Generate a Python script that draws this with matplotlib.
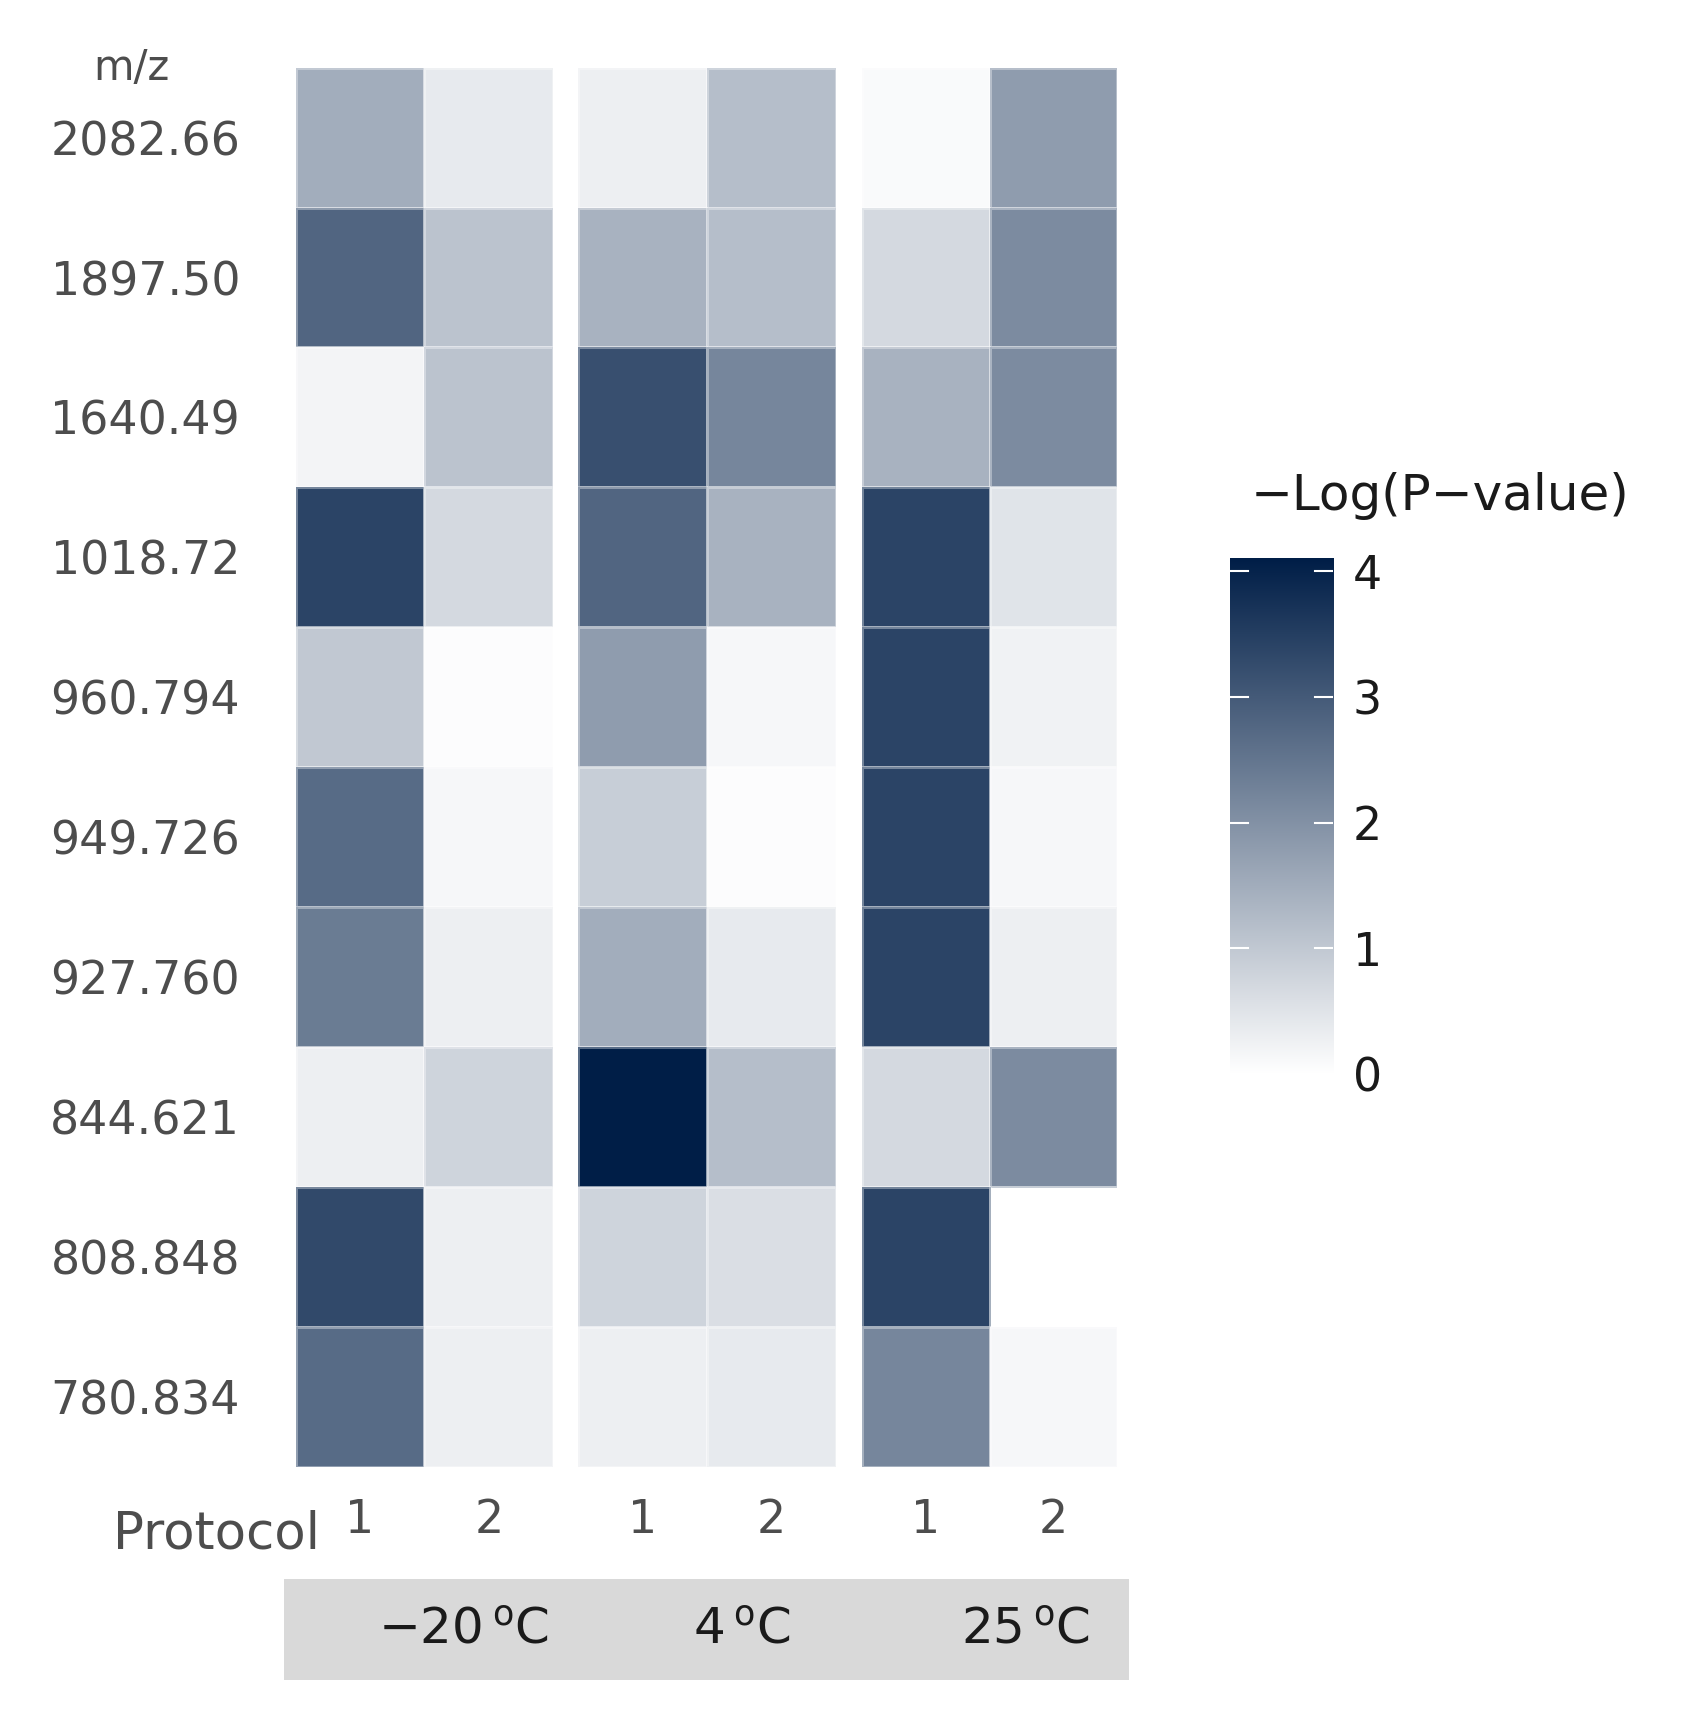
import numpy as np
import matplotlib
matplotlib.use("Agg")
import matplotlib.pyplot as plt
from matplotlib.colors import LinearSegmentedColormap
from matplotlib.patches import Rectangle

mz = ["2082.66","1897.50","1640.49","1018.72","960.794","949.726","927.760","844.621","808.848","780.834"]
temps = ["\u221220 \u1d52C", "4 \u1d52C", "25 \u1d52C"]
temp_labels = ["\u221220$\\,^{\\mathrm{o}}$C", "4$\\,^{\\mathrm{o}}$C", "25$\\,^{\\mathrm{o}}$C"]
protocols = ["1", "2"]
vals_m20 = [[1.5,0.4],[2.8,1.1],[0.2,1.1],[3.4,0.7],[1.0,0.05],[2.7,0.15],[2.4,0.3],[0.3,0.8],[3.3,0.3],[2.7,0.3]]
vals_4 = [[0.3,1.2],[1.4,1.2],[3.2,2.2],[2.8,1.4],[1.8,0.15],[0.9,0.05],[1.5,0.4],[4.1,1.2],[0.8,0.6],[0.3,0.4]]
vals_25 = [[0.1,1.8],[0.7,2.1],[1.4,2.1],[3.4,0.5],[3.4,0.25],[3.4,0.15],[3.4,0.3],[0.7,2.1],[3.4,np.nan],[2.2,0.15]]

cmap = LinearSegmentedColormap.from_list("c", ["#ffffff", "#001e47"])
vmin, vmax = 0, 4.1
W, H = 1691, 1720
fig = plt.figure(figsize=(W/100, H/100), dpi=100)
sx = 1691/1550; sy = 1720/1577
def ax_rect(x0, y0, x1, y1):
    return [x0*sx/W, 1-y1*sy/H, (x1-x0)*sx/W, (y1-y0)*sy/H]

panels = [(271,507), (530,766), (790,1024)]
gray = "#4d4d4d"
for k, (data, (x0, x1)) in enumerate(zip([vals_m20, vals_4, vals_25], panels)):
    ax = fig.add_axes(ax_rect(x0, 62, x1, 1345))
    arr = np.ma.masked_invalid(np.array(data, dtype=float))
    ax.pcolormesh(arr, cmap=cmap, vmin=vmin, vmax=vmax, edgecolors=(1,1,1,0.35), linewidth=0.8)
    ax.set_xlim(0, 2); ax.set_ylim(len(mz), 0)
    for s in ax.spines.values(): s.set_visible(False)
    ax.set_xticks([0.5, 1.5]); ax.set_xticklabels(protocols, fontsize=33, color=gray)
    ax.tick_params(length=0, pad=22)
    if k == 0:
        ax.set_yticks(np.arange(len(mz)) + 0.5)
        ax.set_yticklabels(mz, fontsize=33, color=gray)
        ax.tick_params(axis='y', pad=40)
    else:
        ax.set_yticks([])

fig.text(120*sx/W, 1-62*sy/H, "m/z", fontsize=30, color=gray, ha="center", va="center")
fig.text(293*sx/W, 1-1407*sy/H, "Protocol", fontsize=37, color=gray, ha="right", va="center")

# strip
sax = fig.add_axes(ax_rect(260, 1448, 1035, 1540))
sax.add_patch(Rectangle((0,0),1,1,color="#d9d9d9", transform=sax.transAxes))
sax.axis("off")
for lab, xc in zip(temp_labels, [425, 680, 940]):
    fig.text(xc*sx/W, 1-1495*sy/H, lab, fontsize=36, color="#1a1a1a", ha="center", va="center")

# colorbar
cax = fig.add_axes(ax_rect(1127, 512, 1222, 985))
grad = np.linspace(vmin, vmax, 256).reshape(-1, 1)
cax.imshow(grad, aspect="auto", cmap=cmap, origin="lower", extent=[0,1,vmin,vmax])
for t in [0,1,2,3,4]:
    cax.plot([0,0.18],[t,t], color="white", lw=1.5)
    cax.plot([0.82,1],[t,t], color="white", lw=1.5)
cax.set_xlim(0,1); cax.set_ylim(vmin, vmax)
cax.set_xticks([]); cax.yaxis.tick_right()
cax.set_yticks([0,1,2,3,4]); cax.set_yticklabels(["0","1","2","3","4"], fontsize=33, color="#1a1a1a")
cax.tick_params(length=0, pad=14)
for s in cax.spines.values(): s.set_visible(False)
fig.text(1320*sx/W, 1-455*sy/H, "\u2212Log(P\u2212value)", fontsize=36, color="#1a1a1a", ha="center", va="center")

fig.savefig("out.png", dpi=100, facecolor="white")
